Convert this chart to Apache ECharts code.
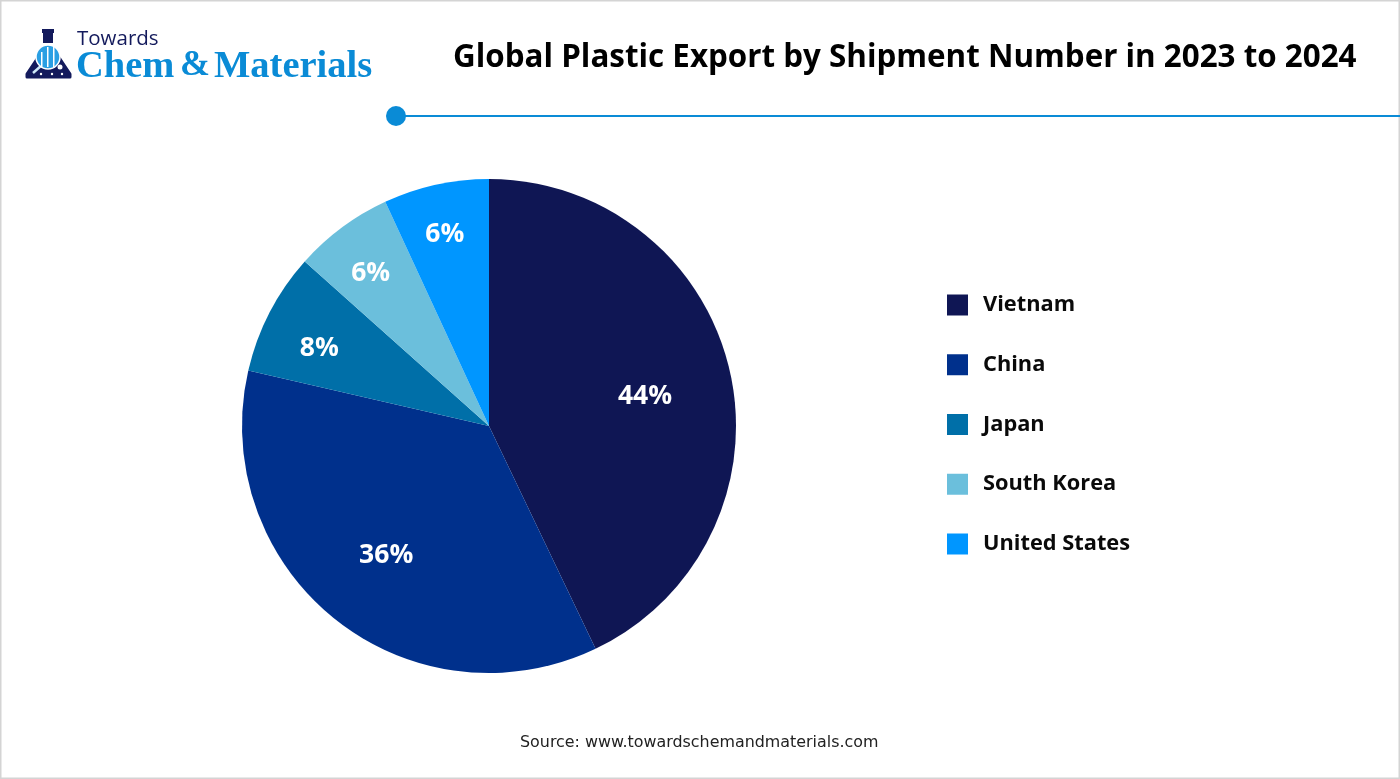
<!DOCTYPE html>
<html style="height: 100%">
   <head>
       <meta charset="utf-8">
   </head>
   <body style="height: 100%; margin: 0; background: #fff">
       <div id="container" style="height: 100%"></div>
       <script src="https://cdn.jsdelivr.net/npm/echarts@6/dist/echarts.min.js"></script>
       <script type="text/javascript">
var countries = ['Vietnam', 'China', 'Japan', 'South Korea', 'United States'];
// slice sizes, printed labels are kept apart
var sliceShares = [42.9, 35.7, 8.0, 6.5, 6.9];
var printedLabels = ['44%', '36%', '8%', '6%', '6%'];
var sliceColors = ['#0f1654', '#00308c', '#006fa8', '#6bbfdc', '#0096ff'];
var labelRadius = [159, 163, 188, 194, 198];
// small corrections on top of the radial label position
var labelNudgeX = [-2, 1, 0, -1, -1];
var labelNudgeY = [6, 0, 10, 6, 5];

var titleText = 'Global Plastic Export by Shipment Number in 2023 to 2024';
var sourceText = 'Source: www.towardschemandmaterials.com';

var pieRadius = 247;
var total = sliceShares.reduce(function (a, b) { return a + b; }, 0);

function labelOffset(i) {
    var before = 0;
    for (var k = 0; k < i; k++) before += sliceShares[k];
    var mid = (before + sliceShares[i] / 2) / total * 2 * Math.PI;
    var extra = labelRadius[i] - pieRadius / 2;
    return {
        dx: extra * Math.sin(mid) + labelNudgeX[i],
        dy: -extra * Math.cos(mid) + labelNudgeY[i]
    };
}

var navy = '#131a5c';
var blue = '#0a8bd6';

var myChart = echarts.init(document.getElementById('container'));
myChart.setOption({
    animation: false,
    backgroundColor: '#fff',
    color: sliceColors,
    title: {
        text: titleText,
        left: 453,
        top: 43,
        padding: 0,
        textStyle: { fontFamily: 'Open Sans', fontWeight: 700, fontSize: 31.35, color: '#000' }
    },
    legend: {
        orient: 'vertical',
        left: 947,
        top: 294,
        padding: 0,
        itemWidth: 21,
        itemHeight: 21,
        itemGap: 37.75,
        icon: 'rect',
        data: countries,
        textStyle: { fontFamily: 'Open Sans', fontWeight: 700, fontSize: 21.8, color: '#0a0a0a', padding: [0, 0, 0, 10] }
    },
    series: [{
        type: 'pie',
        center: [489, 426],
        radius: [0, pieRadius],
        startAngle: 90,
        clockwise: true,
        itemStyle: { borderWidth: 0 },
        label: {
            position: 'inside',
            fontFamily: 'Open Sans',
            fontWeight: 700,
            fontSize: 26.5,
            color: '#fff',
            formatter: function (p) { return printedLabels[p.dataIndex]; }
        },
        labelLine: { show: false },
        labelLayout: function (p) { return labelOffset(p.dataIndex); },
        data: countries.map(function (name, i) {
            return { name: name, value: sliceShares[i] };
        })
    }],
    graphic: [
        // frame
        { type: 'rect', silent: true, shape: { x: 0.5, y: 0.5, width: 1399, height: 778 },
          style: { fill: 'none', stroke: '#d4d4d4', lineWidth: 2 } },
        // header rule
        { type: 'line', shape: { x1: 396, y1: 116, x2: 1400, y2: 116 }, style: { stroke: blue, lineWidth: 2 } },
        { type: 'circle', shape: { cx: 396, cy: 116, r: 10 }, style: { fill: blue } },
        // logo flask
        { type: 'rect', shape: { x: 42, y: 29, width: 12, height: 4 }, style: { fill: navy } },
        { type: 'rect', shape: { x: 43, y: 33, width: 10, height: 10 }, style: { fill: navy } },
        { type: 'polygon', shape: { points: [[39, 56], [58, 56], [70, 74], [70, 77], [27, 77], [27, 74]] },
          style: { fill: navy, stroke: navy, lineWidth: 3, lineJoin: 'round' } },
        { type: 'line', shape: { x1: 33, y1: 73, x2: 42, y2: 65 }, style: { stroke: '#cfe9f8', lineWidth: 2.5 } },
        { type: 'circle', shape: { cx: 48, cy: 57, r: 12 }, style: { fill: '#2a9fe3', stroke: '#fff', lineWidth: 1.5 } },
        { type: 'rect', shape: { x: 41, y: 52, width: 1.5, height: 15 }, style: { fill: '#fff' } },
        { type: 'rect', shape: { x: 47, y: 47, width: 1.5, height: 20 }, style: { fill: '#fff' } },
        { type: 'rect', shape: { x: 53, y: 46, width: 1.5, height: 21 }, style: { fill: '#fff' } },
        { type: 'circle', shape: { cx: 60, cy: 67, r: 2.5 }, style: { fill: '#fff' } },
        { type: 'circle', shape: { cx: 41, cy: 74, r: 1.2 }, style: { fill: '#fff' } },
        { type: 'circle', shape: { cx: 52, cy: 74, r: 1.2 }, style: { fill: '#fff' } },
        { type: 'circle', shape: { cx: 62, cy: 74, r: 1.2 }, style: { fill: '#fff' } },
        // logo text
        { type: 'text', left: 77, top: 29, style: { text: 'Towards', fontFamily: 'Open Sans', fontSize: 20.5, fill: navy } },
        { type: 'text', left: 76, top: 48, style: { text: 'Chem', fontFamily: 'Liberation Serif', fontWeight: 700, fontSize: 38.5, fill: blue } },
        { type: 'text', left: 180, top: 48, style: { text: '&', fontFamily: 'Liberation Serif', fontWeight: 700, fontSize: 36, fill: blue } },
        { type: 'text', left: 214, top: 48, style: { text: 'Materials', fontFamily: 'Liberation Serif', fontWeight: 700, fontSize: 38.5, fill: blue } },
        // source
        { type: 'text', left: 520, top: 735, style: { text: sourceText, fontFamily: 'DejaVu Sans', fontSize: 15.9, fill: '#222' } }
    ]
});
       </script>
   </body>
</html>
